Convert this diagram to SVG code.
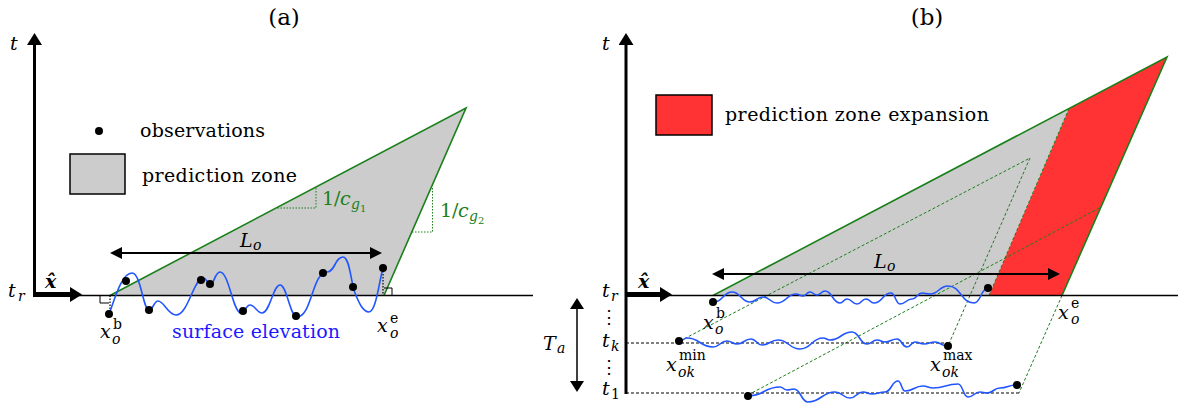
<svg xmlns="http://www.w3.org/2000/svg" width="1184" height="407" viewBox="0 0 1184 407">
<style>
text{font-family:'DejaVu Serif','Liberation Serif','Times New Roman',serif}
.t{font-size:19px;fill:#000}
.big{font-size:23px}
.i{font-style:italic}
.s{font-size:14px}
.ss{font-size:10px}
.g{fill:#1a801a}
.vd{font-size:18px}
.ax{stroke:#000;fill:none}
.edge{stroke:#1a801a;stroke-width:1.6;fill:none}
.dg{stroke:#1a801a;stroke-width:1;stroke-dasharray:3 2;fill:none}
.dot2{stroke:#1a801a;stroke-width:1;stroke-dasharray:1.5 1.5;fill:none}
.dk{stroke:#000;stroke-width:1;stroke-dasharray:3 2;fill:none}
.wave{fill:none;stroke:#2155ff;stroke-width:1.6}
.ob{fill:#000}
.blue{fill:#1a1aff}
</style>
<defs>
<marker id="ha" viewBox="0 0 12 15" refX="1" refY="7.5" markerWidth="12" markerHeight="15" markerUnits="userSpaceOnUse" orient="auto-start-reverse"><path d="M0,0L12,7.5L0,15z" fill="#000"/></marker>
<marker id="hl" viewBox="0 0 12 12" refX="1" refY="6" markerWidth="12" markerHeight="12" markerUnits="userSpaceOnUse" orient="auto-start-reverse"><path d="M0,0L12,6L0,12z" fill="#000"/></marker>
<marker id="hs" viewBox="0 0 11 14" refX="1" refY="7" markerWidth="11" markerHeight="14" markerUnits="userSpaceOnUse" orient="auto-start-reverse"><path d="M0,0L11,7L0,14z" fill="#000"/></marker>
</defs>

<!-- Panel (a) -->
<text class="t big" x="284" y="25" text-anchor="middle">(a)</text>
<g id="a-zone">
<polygon points="110,295.5 466,108 384,295.5" fill="#cccccc"/>
<polyline class="edge" points="110,295.5 466,108 384,295.5"/>
<polyline class="dot2" points="316,188 316,208 276,208"/>
<polyline class="dot2" points="432.5,188 432.5,232 412,232"/>
<text class="t g" x="322" y="205">1/<tspan class="i" x="340">c</tspan><tspan class="i s" x="351" y="209">g</tspan><tspan class="ss" x="360" y="212">1</tspan></text>
<text class="t g" x="440" y="217">1/<tspan class="i" x="458">c</tspan><tspan class="i s" x="469" y="221">g</tspan><tspan class="ss" x="478" y="224">2</tspan></text>
</g>
<g id="a-axes">
<line class="ax" x1="34" y1="295.5" x2="533" y2="295.5" stroke-width="1.6"/>
<line class="ax" x1="34.5" y1="297" x2="34.5" y2="44" stroke-width="3" marker-end="url(#ha)"/>
<line class="ax" x1="33" y1="294.5" x2="71" y2="294.5" stroke-width="5" marker-end="url(#ha)"/>
<text class="t i" x="10" y="50">t</text>
<text class="t i" x="8" y="297">t<tspan class="s" x="18" y="301">r</tspan></text>
<text class="t i" x="45" y="288" font-weight="bold">x̂</text>
</g>
<g id="a-legend">
<circle class="ob" cx="99" cy="131" r="4"/>
<text class="t" x="140" y="137" textLength="125">observations</text>
<rect x="70" y="154" width="55" height="40" fill="#cccccc" stroke="#000" stroke-width="1.5"/>
<text class="t" x="142" y="182" textLength="155">prediction zone</text>
</g>
<g id="a-Lo">
<line class="ax" x1="121" y1="253" x2="371" y2="253" stroke-width="2" marker-start="url(#hl)" marker-end="url(#hl)"/>
<text class="t i" x="240" y="247">L<tspan class="s" x="253" y="250">o</tspan></text>
</g>
<g id="a-surface">
<line x1="110" y1="295.5" x2="110" y2="314" stroke="#000" stroke-width="1.2" stroke-dasharray="1.5 1.5"/>
<line x1="383" y1="268" x2="383" y2="295.5" stroke="#000" stroke-width="1.2" stroke-dasharray="1.5 1.5"/>
<polyline points="100,295.5 100,303 109,303" fill="none" stroke="#000" stroke-width="1"/>
<polyline points="384,288 392,288 392,295.5" fill="none" stroke="#000" stroke-width="1"/>
<path class="wave" d="M109,314 C114,302 121,273 132,273 C141,273 143,310 149,310 C153,310 154,301 158,301 C164,301 168,315 176,315 C188,315 194,278 203,278 C207,278 207,284 211,284 C214,284 215,272 220,272 C229,272 233,313 241,313 C245,313 246,305 250,305 C255,305 257,313 262,313 C270,313 273,285 280,285 C287,285 290,317 297,317 C312,317 312,272 327,272 C335,272 335,257 343,257 C350,257 351,284 355,293 C359,303 363,312 369,312 C376,312 379,282 383,268"/>
<g class="ob">
<circle cx="109" cy="314" r="4"/><circle cx="126" cy="281" r="4"/><circle cx="149" cy="310" r="4"/>
<circle cx="201" cy="280" r="4"/><circle cx="210" cy="284" r="4"/><circle cx="243" cy="311" r="4"/>
<circle cx="296" cy="316" r="4"/><circle cx="323" cy="273" r="4"/><circle cx="353" cy="287" r="4"/>
<circle cx="383" cy="268" r="4"/>
</g>
<text class="t blue" x="172" y="338" textLength="168">surface elevation</text>
<text class="t i" x="100" y="338">x<tspan class="s" font-style="normal" x="113" y="329">b</tspan><tspan class="s" x="112" y="344">o</tspan></text>
<text class="t i" x="377" y="332">x<tspan class="s" font-style="normal" x="390" y="323">e</tspan><tspan class="s" x="390" y="338">o</tspan></text>
</g>

<!-- Panel (b) -->
<text class="t big" x="927" y="25" text-anchor="middle">(b)</text>
<g id="b-zone">
<polygon points="713,295.5 1069,108.5 989,295.5" fill="#cccccc"/>
<polygon points="989,295.5 1069,108.5 1167,57 1062,295.5" fill="#ff3333"/>
<polyline class="edge" points="713,295.5 1167,57 1062,295.5"/>
<line class="dg" x1="1069" y1="108.5" x2="989" y2="295.5"/>
</g>
<g id="b-legend">
<rect x="656" y="95" width="56" height="40" fill="#ff3333" stroke="#000" stroke-width="1.5"/>
<text class="t" x="725" y="121" textLength="264">prediction zone expansion</text>
</g>
<g id="connectors">
<polyline class="dg" points="680,341 1030,158 948,346"/>
<line class="dg" x1="748" y1="395" x2="1101" y2="207"/>
<line class="dg" x1="1062" y1="295.5" x2="1019" y2="393"/>
<line class="dk" x1="626" y1="343" x2="948" y2="343"/>
<line class="dk" x1="626" y1="393" x2="1019" y2="393"/>
</g>
<g id="b-axes">
<line class="ax" x1="626" y1="295.5" x2="1178" y2="295.5" stroke-width="1.6"/>
<line class="ax" x1="626" y1="394" x2="626" y2="44" stroke-width="3" marker-end="url(#ha)"/>
<line class="ax" x1="625" y1="294.5" x2="661" y2="294.5" stroke-width="5" marker-end="url(#ha)"/>
<text class="t i" x="602" y="50">t</text>
<text class="t i" x="602" y="297">t<tspan class="s" x="611" y="301">r</tspan></text>
<text class="t i" x="638" y="288" font-weight="bold">x̂</text>
<text class="vd" x="609" y="323" text-anchor="middle">⋮</text>
<text class="vd" x="609" y="373" text-anchor="middle">⋮</text>
<text class="t i" x="602" y="347">t<tspan class="s" x="611" y="351">k</tspan></text>
<text class="t i" x="602" y="395">t<tspan class="s" font-style="normal" x="611" y="399">1</tspan></text>
</g>
<g id="b-Ta">
<line class="ax" x1="577" y1="308" x2="577" y2="382" stroke-width="1.5" marker-start="url(#hs)" marker-end="url(#hs)"/>
<text class="t i" x="543" y="350">T<tspan class="s" x="557" y="353">a</tspan></text>
</g>
<g id="b-Lo">
<line class="ax" x1="723" y1="274" x2="1049" y2="274" stroke-width="2" marker-start="url(#hl)" marker-end="url(#hl)"/>
<text class="t i" x="874" y="268">L<tspan class="s" x="887" y="271">o</tspan></text>
</g>
<g id="b-surface-tr">
<path class="wave" d="M714,302 C723,302 723,292 732,292 C741,292 741,302 750,302 C756.5,302 756.5,297 763,297 C770,297 770,303 777,303 C786.5,303 786.5,294 796,294 C799.5,294 799.5,296 803,296 C806.5,296 806.5,292 810,292 C813.5,292 813.5,295 817,295 C821,295 821,291 825,291 C832.5,291 832.5,303 840,303 C843.5,303 843.5,299 847,299 C852,299 852,304 857,304 C861.5,304 861.5,299 866,299 C870,299 870,303 874,303 C882.5,303 882.5,293 891,293 C895.5,293 895.5,304 900,304 C906,304 906,299 912,299 C917,299 917,293 922,293 C926,293 926,294 930,294 C939,294 939,286 948,286 C961,286 961,303 974,303 C981,303 981,288 988,288"/>
<circle class="ob" cx="713" cy="302" r="4"/>
<circle class="ob" cx="988" cy="288" r="4"/>
<text class="t i" x="703" y="329">x<tspan class="s" font-style="normal" x="716" y="318">b</tspan><tspan class="s" x="715" y="334">o</tspan></text>
<text class="t i" x="1058" y="319">x<tspan class="s" font-style="normal" x="1071" y="308">e</tspan><tspan class="s" x="1071" y="324">o</tspan></text>
</g>
<g id="b-surface-tk">
<path class="wave" d="M680,341 C683.5,341 683.5,338 687,338 C700,338 700,347 713,347 C720,347 720,341 727,341 C732,341 732,344 737,344 C744,344 744,339 751,339 C756.5,339 756.5,345 762,345 C770,345 770,340 778,340 C789,340 789,349 800,349 C811.5,349 811.5,338 823,338 C826.5,338 826.5,340 830,340 C841,340 841,332 852,332 C859.5,332 859.5,344 867,344 C872,344 872,340 877,340 C881,340 881,342 885,342 C891,342 891,339 897,339 C902,339 902,347 907,347 C911,347 911,342 915,342 C919.5,342 919.5,344 924,344 C929.5,344 929.5,342 935,342 C941,342 941,346 947,346"/>
<circle class="ob" cx="679" cy="341" r="4"/>
<circle class="ob" cx="948" cy="346" r="4"/>
<text class="t i" x="666" y="371">x<tspan class="s" font-style="normal" x="679" y="360">min</tspan><tspan class="s" x="678" y="377">ok</tspan></text>
<text class="t i" x="930" y="371">x<tspan class="s" font-style="normal" x="943" y="360">max</tspan><tspan class="s" x="942" y="377">ok</tspan></text>
</g>
<g id="b-surface-t1">
<path class="wave" d="M748,396 C764,396 764,387 780,387 C783.5,387 783.5,390 787,390 C790.5,390 790.5,389 794,389 C801,389 801,402 808,402 C821.5,402 821.5,392 835,392 C842.5,392 842.5,398 850,398 C856.5,398 856.5,392 863,392 C867.5,392 867.5,394 872,394 C878.5,394 878.5,392 885,392 C891.5,392 891.5,381 898,381 C901.5,381 901.5,391 905,391 C914,391 914,386 923,386 C928,386 928,388 933,388 C945.5,388 945.5,384 958,384 C963,384 963,397 968,397 C974,397 974,392 980,392 C983.5,392 983.5,393 987,393 C993.5,393 993.5,388 1000,388 C1008,388 1008,385 1016,385"/>
<circle class="ob" cx="748" cy="396" r="4"/>
<circle class="ob" cx="1017" cy="385" r="4"/>
</g>
</svg>
